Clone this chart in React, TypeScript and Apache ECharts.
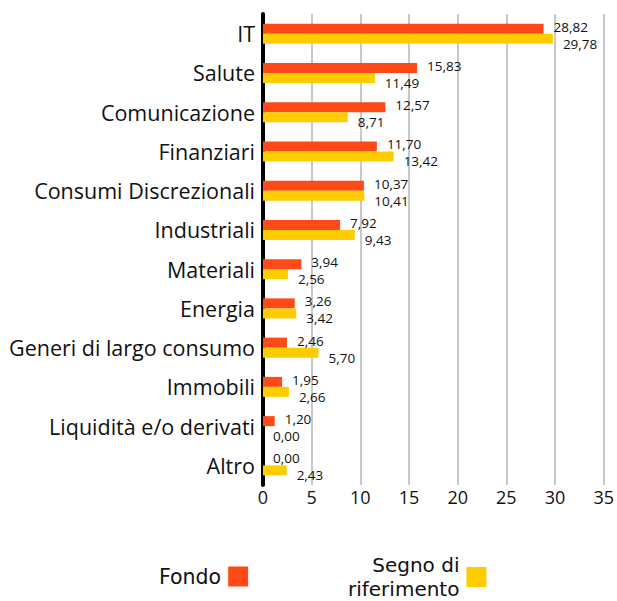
import React, { useEffect, useRef } from "react";
import * as echarts from "echarts";

const categories = [
  "IT",
  "Salute",
  "Comunicazione",
  "Finanziari",
  "Consumi Discrezionali",
  "Industriali",
  "Materiali",
  "Energia",
  "Generi di largo consumo",
  "Immobili",
  "Liquidità e/o derivati",
  "Altro",
];
const fondo = [28.82, 15.83, 12.57, 11.7, 10.37, 7.92, 3.94, 3.26, 2.46, 1.95, 1.2, 0.0];
const benchmark = [29.78, 11.49, 8.71, 13.42, 10.41, 9.43, 2.56, 3.42, 5.7, 2.66, 0.0, 2.43];
const seriesNames = ["Fondo", "Segno di riferimento"];

const FONT = "Open Sans";
const LEGEND_FONT = "DejaVu Sans";
const fmt = (v: number) => v.toFixed(2).replace(".", ",");

export default function App() {
  const ref = useRef<HTMLDivElement>(null);
  useEffect(() => {
    if (!ref.current) return;
    const chart = echarts.init(ref.current, undefined, { renderer: "svg" });
    chart.setOption({
      animation: false,
      textStyle: { fontFamily: FONT },
      grid: { left: 263, right: 13, top: 14, bottom: 116, containLabel: false },
      xAxis: {
        type: "value",
        min: 0,
        max: 35,
        interval: 5,
        axisLine: { show: false },
        axisTick: { show: false },
        splitLine: { show: true, lineStyle: { color: "#c8c8c8", width: 2 } },
        axisLabel: { color: "#111", fontSize: 18, fontFamily: FONT, margin: 3 },
      },
      yAxis: {
        type: "category",
        data: categories,
        inverse: true,
        axisLine: { show: true, lineStyle: { color: "#000", width: 4 } },
        axisTick: { show: false },
        axisLabel: { color: "#111", fontSize: 21.5, fontFamily: FONT, margin: 8 },
      },
      legend: [
        {
          data: [seriesNames[0]],
          left: 159,
          top: 566,
          padding: 0,
          align: "right",
          itemWidth: 20,
          itemHeight: 20,
          itemGap: 0,
          icon: "rect",
          textStyle: {
            fontSize: 20.5,
            color: "#111",
            fontFamily: LEGEND_FONT,
            padding: [0, 2, 0, 0],
          },
        },
        {
          data: [seriesNames[1]],
          left: 348,
          top: 553,
          padding: 0,
          align: "right",
          itemWidth: 20,
          itemHeight: 20,
          icon: "rect",
          formatter: () => "Segno di\nriferimento",
          textStyle: {
            fontSize: 20,
            color: "#111",
            fontFamily: LEGEND_FONT,
            lineHeight: 24,
            align: "right",
            padding: [0, 2, 0, 0],
          },
        },
      ],
      series: [
        {
          name: seriesNames[0],
          type: "bar",
          data: fondo,
          barWidth: 10,
          barGap: "0%",
          itemStyle: { color: "#ff4a17" },
          label: {
            show: true,
            position: "right",
            distance: 10,
            offset: [0, -2],
            fontSize: 13.5,
            lineHeight: 14,
            color: "#111",
            fontFamily: FONT,
            formatter: (p: any) => fmt(p.value),
          },
        },
        {
          name: seriesNames[1],
          type: "bar",
          data: benchmark,
          barWidth: 10,
          barGap: "0%",
          itemStyle: { color: "#ffcc00" },
          label: {
            show: true,
            position: "right",
            distance: 10,
            offset: [0, 5],
            fontSize: 13.5,
            lineHeight: 14,
            color: "#111",
            fontFamily: FONT,
            formatter: (p: any) => fmt(p.value),
          },
        },
      ],
    });
    return () => chart.dispose();
  }, []);
  return (
    <div
      ref={ref}
      style={{ position: "absolute", left: 0, top: 0, width: 617, height: 601 }}
    />
  );
}
